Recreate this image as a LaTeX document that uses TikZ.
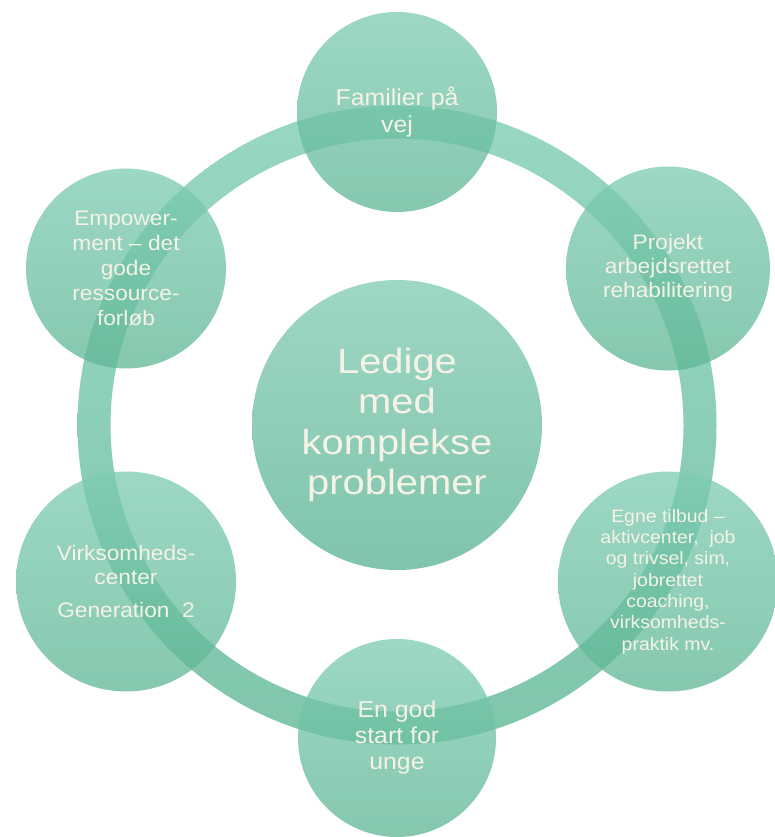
\documentclass[tikz,border=0pt]{standalone}
\usepackage{fontspec}
\setmainfont{Liberation Sans}[FakeStretch=1.08]
\newfontfamily\bigfont{Liberation Sans}[FakeStretch=1.14]
\definecolor{ringtop}{RGB}{152,215,195}
\definecolor{ringbot}{RGB}{128,198,171}
\definecolor{outtop}{RGB}{124,203,179}
\definecolor{outbot}{RGB}{94,182,148}
\definecolor{midtop}{RGB}{158,215,197}
\definecolor{midbot}{RGB}{128,196,171}
\definecolor{txt}{RGB}{246,243,230}
\tikzset{
  outer/.style={circle, inner sep=0pt, top color=outtop, bottom color=outbot,
    fill opacity=0.75, text opacity=1, text=txt, align=center, draw=none},
  centre/.style={circle, inner sep=0pt, top color=midtop, bottom color=midbot,
    text=txt, align=center, draw=none, minimum size=290pt,
    font=\bigfont\fontsize{35}{40.5}\selectfont},
  ring/.style={top color=ringtop, bottom color=ringbot, even odd rule, draw=none}
}
\begin{document}
\begin{tikzpicture}[x=1pt,y=-1pt]
\useasboundingbox (0,0) rectangle (775,837);
\fill[white] (0,0) rectangle (775,837);
\coordinate (c) at (397,425);
\shade[ring] (c) circle (319.5pt) (c) circle (286.5pt);
\node[centre] (mid) at (c) {Ledige\\med\\komplekse\\problemer};
\node[outer, minimum size=200pt, font=\fontsize{23}{27.6}\selectfont] (fam) at (397,112) {Familier på\\vej};
\node[outer, minimum size=204pt, font=\fontsize{21}{24}\selectfont] (proj) at (668,268.5) {Projekt\\arbejdsrettet\\rehabilitering};
\node[outer, minimum size=220pt, font=\fontsize{18}{21.3}\selectfont] (egne) at (668,581.5) {Egne tilbud –\\aktivcenter,\ \ job\\og trivsel, sim,\\jobrettet\\coaching,\\virksomheds-\\praktik mv.};
\node[outer, minimum size=198pt, font=\fontsize{23}{26}\selectfont] (start) at (397,738) {En god\\start for\\unge};
\node[outer, minimum size=220pt, font=\fontsize{21}{24}\selectfont] (virk) at (126,581.5) {Virksomheds-\\center\\[9pt]Generation\ \ 2};
\node[outer, minimum size=200pt, font=\fontsize{21}{25}\selectfont] (emp) at (126,268.5) {Empower-\\ment – det\\gode\\ressource-\\forløb};
\end{tikzpicture}
\end{document}
